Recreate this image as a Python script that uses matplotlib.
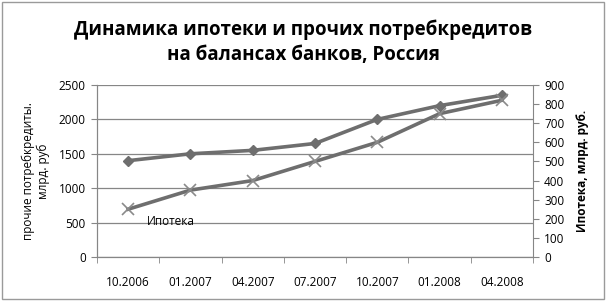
import matplotlib
matplotlib.use('Agg')

import matplotlib.pyplot as plt

# data
periods = ["10.2006", "01.2007", "04.2007", "07.2007", "10.2007", "01.2008", "04.2008"]
consumer = [1400, 1500, 1550, 1650, 2000, 2200, 2350]   # прочие потребкредиты, млрд. руб
mortgage = [250, 350, 400, 500, 600, 750, 820]          # ипотека, млрд. руб.

plt.rcParams['font.family'] = ['Open Sans', 'DejaVu Sans']

fig = plt.figure(figsize=(6.06, 3.01), dpi=100)
ax = fig.add_axes([97 / 606, 1 - 257 / 301, 436 / 606, 172 / 301])
ax2 = ax.twinx()

x = list(range(len(periods)))
line_col = '#6e6e6e'
ax.plot(x, consumer, color=line_col, lw=2.6, marker='D', ms=5.5,
        mfc=line_col, mec=line_col, zorder=3)
ax2.plot(x, mortgage, color=line_col, lw=2.6, marker='x', ms=8,
         mew=1.2, mec='#8a8a8a', zorder=3)

ax.set_xlim(-0.5, len(periods) - 0.5)
ax.set_ylim(0, 2500)
ax.set_yticks(range(0, 2501, 500))
ax2.set_ylim(0, 900)
ax2.set_yticks(range(0, 901, 100))

ax.set_xticks(x)
ax.set_xticklabels(periods)
ax.set_xticks([i - 0.5 for i in range(len(periods) + 1)], minor=True)
ax.tick_params(axis='x', which='major', length=0, pad=14, labelsize=8.5)
ax.tick_params(axis='x', which='minor', length=4, color='#868686', direction='out')
ax.tick_params(axis='y', length=4, color='#868686', labelsize=8.5, pad=4)
ax2.tick_params(axis='y', length=4, color='#868686', labelsize=8.5, pad=4)

ax.grid(axis='y', color='#868686', lw=0.9)
ax.set_axisbelow(True)

for a in (ax, ax2):
    a.spines['top'].set_visible(False)
    for s in ('left', 'right', 'bottom'):
        a.spines[s].set_color('#868686')
ax.spines['right'].set_visible(False)

ax.set_ylabel("прочие потребкредиты.\nмлрд. руб", fontsize=8.5, labelpad=6,
              linespacing=1.2)
ax2.set_ylabel("Ипотека, млрд. руб.", fontsize=8.5, fontweight='bold', labelpad=8)

ax.text(0.3, 520, "Ипотека", fontsize=8.5, va='center', ha='left')

fig.text(0.5, 1 - 42 / 301, "Динамика ипотеки и прочих потребкредитов\nна балансах банков, Россия",
         ha='center', va='center', fontsize=13.5, fontweight='bold', linespacing=1.35)

# outer frame
fig.patches.append(plt.Rectangle((0.003, 0.005), 0.994, 0.99, transform=fig.transFigure,
                                 fill=False, edgecolor='#9a9a9a', lw=1))

plt.savefig('out.png', dpi=100)
plt.close()
